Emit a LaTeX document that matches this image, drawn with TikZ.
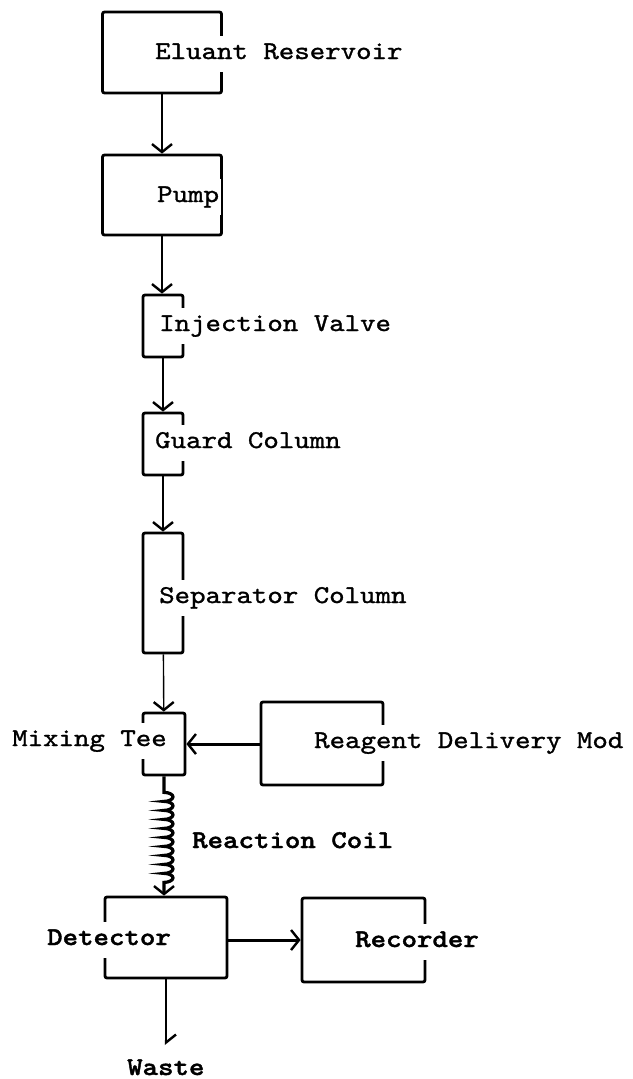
\documentclass[tikz,border=0pt]{standalone}
\usepackage{fontspec}
\newfontfamily\typefont[Extension=.otf, FakeStretch=1.15, FakeBold=1.2,
  BoldFont=lmmonolt10-bold, BoldFeatures={FakeBold=1.5}]{lmmono10-regular}
\usetikzlibrary{arrows.meta,decorations.pathmorphing}

\begin{document}
\begin{tikzpicture}[x=1pt, y=-1pt,
  every node/.style={font=\typefont\fontsize{25.6}{28}\selectfont},
  unit/.style={draw, line width=2.8pt, rounded corners=2pt, inner sep=0pt},
  lbl/.style={anchor=west, fill=white, inner xsep=2pt, inner ysep=8pt,
              text height=15pt, text depth=5pt},
  blbl/.style={lbl, font=\typefont\bfseries\fontsize{25.6}{28}\selectfont},
  tip/.style={-{Straight Barb[length=8pt, width=20pt, line width=2.4pt]}},
  arr/.style={tip, line width=1.4pt},
  barr/.style={arr, line width=3pt},
  coilline/.style={barr, line width=3.2pt, decorate, decoration={bumps,
                   amplitude=9pt, segment length=18pt, pre length=16pt,
                   post length=12pt}}
]
  \useasboundingbox (0,0) rectangle (632,1079);

  % main column
  \node[unit, minimum width=119pt, minimum height=81pt] (res) at (162,52.5) {};
  \node[unit, minimum width=119pt, minimum height=80pt] (pump) at (162,195) {};
  \node[unit, minimum width=40pt, minimum height=62pt] (valve) at (163,326) {};
  \node[unit, minimum width=40pt, minimum height=62pt] (guard) at (163,444) {};
  \node[unit, minimum width=40pt, minimum height=120pt] (sep) at (163,593) {};
  \node[unit, minimum width=42pt, minimum height=62pt] (tee) at (164,744) {};
  \node[unit, minimum width=122pt, minimum height=83pt] (reag) at (322,743.5) {};
  \node[unit, minimum width=122pt, minimum height=81pt] (det) at (166,937.5) {};
  \node[unit, minimum width=123pt, minimum height=84pt] (rec) at (363.5,940) {};
  \coordinate (drain) at (166,1045);

  % labels
  \node[lbl] (reslbl) at (153,54) {Eluant Reservoir};
  \node[lbl] (pumplbl) at (155,197) {Pump};
  \node[lbl] (valvelbl) at (157,326) {Injection Valve};
  \node[lbl] (guardlbl) at (153,443) {Guard Column};
  \node[lbl] (seplbl) at (157,598) {Separator Column};
  \node[lbl] (teelbl) at (10,741) {Mixing Tee};
  \node[lbl] (reaglbl) at (312,743) {Reagent Delivery Mod};
  \node[blbl, fill=none] (coillbl) at (190,843) {Reaction Coil};
  \node[blbl] (detlbl) at (45,940) {Detector};
  \node[blbl] (reclbl) at (353,942) {Recorder};
  \node[blbl, fill=none] (wastelbl) at (125,1070) {Waste};

  % flow
  \draw[arr] (res.south) -- (pump.north);
  \draw[arr] (pump.south) -- (pump.south |- valve.north);
  \draw[arr] (valve) -- (guard);
  \draw[arr] (guard) -- (sep);
  \draw[arr] (sep) -- (tee);
  \draw[barr] (reag.west |- tee.east) -- (tee.east);
  \draw[coilline] (tee.south) -- (tee.south |- det.north);
  \draw[barr] (det.east |- rec.west) -- (rec.west);
  \draw[barr, line width=2.2pt,
        -{Straight Barb[left, length=8pt, width=20pt, line width=2.4pt]}]
    (det.south) -- (drain);
\end{tikzpicture}
\end{document}
